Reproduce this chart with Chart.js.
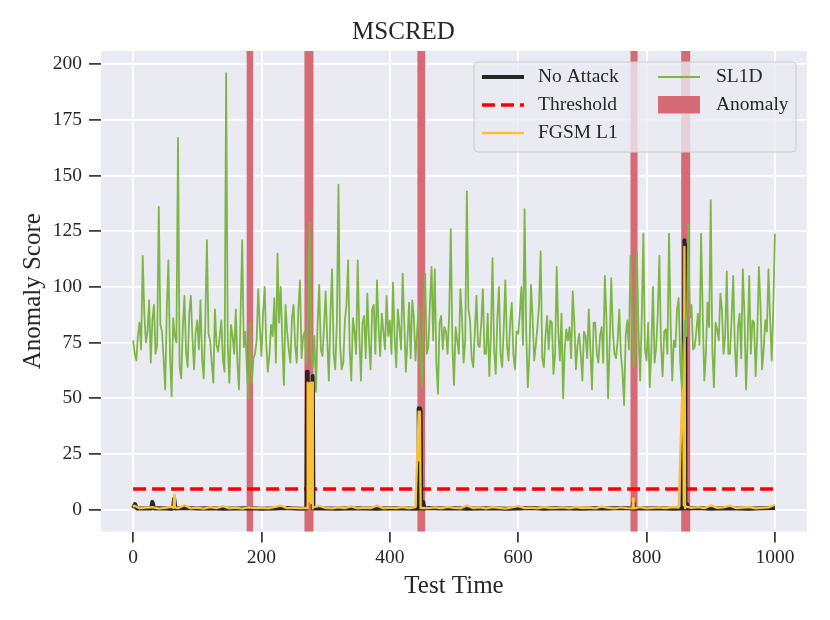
<!DOCTYPE html>
<html><head><meta charset="utf-8">
<script src="https://cdn.jsdelivr.net/npm/chart.js@4.4.1/dist/chart.umd.min.js"></script>
<style>html,body{margin:0;padding:0;background:#fff}#wrap{width:830px;height:620px;position:relative}</style>
</head><body><div id="wrap"><canvas id="c"></canvas></div>
<script>
// ---- data ----
const chartTitle = 'MSCRED';
const xAxisTitle = 'Test Time';
const yAxisTitle = 'Anomaly Score';
const xTickValues = [0, 200, 400, 600, 800, 1000];
const yTickValues = [0, 25, 50, 75, 100, 125, 150, 175, 200];

// SL1D, sampled every 5 time steps from 0 to 1000
const sl1dStep = 5;
const sl1dScore = [
  76,67,84,114,75,94,85,70,136,80,54,112,51,78,167,59,96,64,96,63,
  85,94,59,121,76,57,74,78,67,196,57,78,90,54,121,80,50,57,70,99,
  69,100,62,83,95,115,100,56,80,66,92,66,103,78,66,129,64,53,101,69,
  98,58,108,63,146,63,85,112,58,80,112,58,87,97,63,92,103,69,80,96,
  85,102,64,82,106,62,93,94,67,91,55,106,73,109,108,52,87,82,70,126,
  56,76,99,66,143,85,64,96,73,99,70,60,113,61,100,64,103,67,93,63,
  79,100,135,55,101,67,82,116,64,87,85,61,109,67,50,81,82,98,63,79,
  58,78,90,54,84,66,82,105,50,104,70,76,70,47,85,114,64,115,58,124,
  67,55,100,73,114,60,81,124,58,73,95,55,85,128,92,73,88,124,58,93,
  139,55,81,97,70,107,70,105,60,88,108,54,105,85,60,109,63,85,108,67,
  124
];
// SL1D values in between (times 2.5, 7.5, ..., 997.5)
const sl1dMidScore = [
  70,78,72,88,80,66,92,74,83,68,90,70,86,75,64,82,71,88,77,80,
  72,68,84,79,66,90,71,85,62,74,83,70,66,88,73,62,84,68,76,82,
  88,74,70,78,66,84,76,92,72,86,74,90,68,80,88,70,78,84,72,82,
  76,88,70,84,74,66,92,72,86,70,78,84,68,76,90,70,82,88,72,78,
  70,78,90,72,84,76,68,86,80,74,88,70,92,76,66,84,72,80,88,74,
  82,70,86,76,90,68,80,74,84,70,88,78,72,86,70,82,74,84,70,80,
  88,74,80,70,86,74,92,68,78,72,84,70,80,88,72,76,68,84,74,70,
  80,68,72,84,70,78,66,86,74,80,68,90,62,78,72,84,70,80,86,72,
  84,72,66,88,74,80,70,84,76,90,66,74,78,86,72,80,74,88,70,82,
  72,84,76,90,78,70,86,74,82,68,88,76,70,84,78,92,72,80,86,90
];

// FGSM L1: baseline every 10 steps plus spike points
const fgsmBaseStep = 10;
const fgsmBaseScore = [
  1.2,0.6,0.9,1.1,0.5,0.8,1.3,0.7,2.0,0.6,
  0.9,0.5,1.1,0.7,1.6,0.6,0.9,0.5,1.0,0.7,
  0.8,0.6,1.2,1.8,0.7,0.9,0.6,0.8,0.5,1.7,
  0.8,0.6,1.0,0.7,1.5,0.6,0.9,0.7,1.8,0.6,
  0.9,0.7,1.2,0.6,1.1,0.8,0.7,1.0,0.6,1.3,
  0.8,0.6,1.9,0.7,1.0,0.6,1.2,0.8,0.5,1.0,
  1.6,0.7,0.9,0.6,1.1,0.7,0.8,1.0,0.6,1.2,
  0.7,0.9,0.6,1.4,0.8,0.6,1.0,0.7,0.9,1.1,
  0.6,0.8,1.0,0.7,1.2,0.9,0.6,0.8,1.1,0.7,
  1.9,0.8,1.0,1.8,0.7,0.9,1.2,0.6,0.8,1.0,
  2.2
];
const fgsmSpikeTime  = [2, 63, 64, 65, 271, 272, 273, 274, 275, 276, 277, 278, 279, 280, 445, 446, 447, 448, 778, 779, 780, 857, 858, 859, 860];
const fgsmSpikeScore = [1.8, 0.8, 6.6, 1.0, 0.6, 57, 4, 56, 8, 57, 3, 56, 57, 1.0, 44, 22, 44, 0.7, 0.6, 5, 0.6, 64, 2, 118, 1.5];

// No Attack: baseline every 20 steps plus spike points
const noAttackBaseStep = 20;
const noAttackBaseScore = [
  0.7,0.5,0.6,0.4,0.7,0.5,0.6,0.4,0.5,0.6,
  0.4,0.5,0.7,0.4,0.6,0.5,0.4,0.6,0.5,0.4,
  0.6,0.5,0.4,0.7,0.5,0.6,0.4,0.5,0.6,0.4,
  0.5,0.7,0.4,0.6,0.5,0.4,0.6,0.5,0.7,0.4,
  0.5,0.6,0.4,0.5,0.7,0.4,0.6,0.5,0.4,0.6,
  0.7
];
const noAttackSpikeTime  = [3, 6, 28, 30, 33, 62, 64, 66, 270, 271, 272, 274, 276, 278, 280, 281, 444, 445, 446, 447, 448, 449, 451, 452, 454, 778, 779, 781, 856, 857, 858, 859, 860, 861, 863, 865];
const noAttackSpikeScore = [2.5, 0.5, 0.5, 3.5, 0.5, 0.5, 5, 0.5, 0.5, 62, 57, 57, 56, 57, 60, 0.5, 0.5, 45.5, 44, 45.5, 44, 0.5, 0.5, 3.5, 0.5, 0.5, 3, 0.5, 0.5, 58, 3, 121, 119, 0.5, 2.5, 0.5];

// Threshold
const thresholdTime  = [0, 1000];
const thresholdScore = [9.3, 9.3];

// Anomaly spans (test time)
const anomalyStart = [177, 267, 443, 775, 854];
const anomalyEnd   = [187, 281, 455, 786, 868];

// ---- build point lists ----
function regular(values, step, offset) { return values.map((y, i) => ({x: (offset || 0) + i * step, y})); }
function interleaved(main, mid, step) {
  const pts = [];
  main.forEach((y, i) => {
    pts.push({x: i * step, y});
    if (i < mid.length) pts.push({x: i * step + step / 2, y: mid[i]});
  });
  return pts;
}
function merged(base, step, times, scores) {
  const pts = regular(base, step);
  times.forEach((t, i) => pts.push({x: t, y: scores[i]}));
  pts.sort((a, b) => a.x - b.x);
  return pts;
}
function paired(times, scores) { return times.map((t, i) => ({x: t, y: scores[i]})); }

const COL = {
  bg: '#eaeaf2', text: '#262626', grid: '#ffffff',
  noAttack: '#262626', threshold: '#ff0000', fgsm: '#fbc134', sl1d: '#7db645', anomaly: '#d66a75'
};
const FONT = 'Liberation Serif, "Times New Roman", serif';

const bgPlugin = {
  id: 'bgPlugin',
  beforeDraw(chart) {
    const {ctx, chartArea: a} = chart;
    ctx.save();
    ctx.fillStyle = '#ffffff';
    ctx.fillRect(0, 0, chart.width, chart.height);
    ctx.fillStyle = COL.bg;
    ctx.fillRect(a.left, a.top, a.right - a.left, a.bottom - a.top);
    ctx.restore();
  }
};

const anomalyPlugin = {
  id: 'anomalyPlugin',
  beforeDatasetsDraw(chart) {
    const {ctx, chartArea: a, scales: {x}} = chart;
    ctx.save();
    ctx.fillStyle = COL.anomaly;
    anomalyStart.forEach((s, i) => {
      const x1 = x.getPixelForValue(s), x2 = x.getPixelForValue(anomalyEnd[i]);
      ctx.fillRect(x1, a.top, x2 - x1, a.bottom - a.top);
    });
    ctx.restore();
  }
};

const legendPlugin = {
  id: 'boxLegend',
  afterDraw(chart) {
    const {ctx, chartArea: a} = chart;
    const ds = chart.data.datasets;
    const byLabel = l => ds.find(d => d.label === l);
    const bx = a.right - 333, by = a.top + 11, bw = 322, bh = 90, r = 4;
    ctx.save();
    ctx.beginPath();
    ctx.moveTo(bx + r, by);
    ctx.arcTo(bx + bw, by, bx + bw, by + bh, r);
    ctx.arcTo(bx + bw, by + bh, bx, by + bh, r);
    ctx.arcTo(bx, by + bh, bx, by, r);
    ctx.arcTo(bx, by, bx + bw, by, r);
    ctx.closePath();
    ctx.fillStyle = 'rgba(234,234,242,0.8)';
    ctx.fill();
    ctx.strokeStyle = '#cccccc';
    ctx.lineWidth = 1;
    ctx.stroke();

    const rows = [by + 15, by + 43, by + 71];
    const cols = [{h: bx + 8, t: bx + 64}, {h: bx + 184, t: bx + 242}];
    const items = [
      {label: 'No Attack', col: 0, row: 0, kind: 'line'},
      {label: 'Threshold', col: 0, row: 1, kind: 'line'},
      {label: 'FGSM L1', col: 0, row: 2, kind: 'line'},
      {label: 'SL1D', col: 1, row: 0, kind: 'line'},
      {label: 'Anomaly', col: 1, row: 1, kind: 'patch'}
    ];
    ctx.font = '19.5px ' + FONT;
    ctx.textBaseline = 'middle';
    ctx.textAlign = 'left';
    items.forEach(it => {
      const y = rows[it.row], c = cols[it.col];
      if (it.kind === 'line') {
        const d = byLabel(it.label);
        ctx.beginPath();
        ctx.setLineDash(d.borderDash || []);
        ctx.lineDashOffset = 0;
        ctx.strokeStyle = d.borderColor;
        ctx.lineWidth = d.borderWidth;
        ctx.lineCap = 'butt';
        ctx.moveTo(c.h, y);
        ctx.lineTo(c.h + 42, y);
        ctx.stroke();
        ctx.setLineDash([]);
      } else {
        ctx.fillStyle = COL.anomaly;
        ctx.fillRect(c.h, y - 9, 42, 17.5);
      }
      ctx.fillStyle = COL.text;
      ctx.fillText(it.label, c.t, y);
    });
    ctx.restore();
  }
};

const lineBase = {pointRadius: 0, pointHoverRadius: 0, tension: 0, fill: false, borderJoinStyle: 'round', borderCapStyle: 'butt'};

new Chart(document.getElementById('c'), {
  type: 'line',
  data: {
    datasets: [
      Object.assign({label: 'SL1D', data: interleaved(sl1dScore, sl1dMidScore, sl1dStep), borderColor: COL.sl1d, borderWidth: 1.8, order: 0}, lineBase),
      Object.assign({label: 'FGSM L1', data: merged(fgsmBaseScore, fgsmBaseStep, fgsmSpikeTime, fgsmSpikeScore), borderColor: COL.fgsm, borderWidth: 2.3, order: 1}, lineBase),
      Object.assign({label: 'No Attack', data: merged(noAttackBaseScore, noAttackBaseStep, noAttackSpikeTime, noAttackSpikeScore), borderColor: COL.noAttack, borderWidth: 4, order: 2}, lineBase),
      Object.assign({label: 'Threshold', data: paired(thresholdTime, thresholdScore), borderColor: COL.threshold, borderWidth: 3.6, borderDash: [13, 6], order: 3}, lineBase)
    ]
  },
  options: {
    responsive: true,
    maintainAspectRatio: false,
    animation: false,
    events: [],
    layout: {padding: {left: 0, right: 23, top: 0, bottom: 0}},
    plugins: {
      legend: {display: false},
      tooltip: {enabled: false},
      title: {display: true, text: chartTitle, color: COL.text, font: {family: FONT, size: 25, weight: 'normal'}, padding: {top: 17, bottom: 4}}
    },
    scales: {
      x: {
        type: 'linear', min: -50, max: 1050,
        afterBuildTicks: s => { s.ticks = xTickValues.map(v => ({value: v})); },
        afterFit: s => { s.height = 88.5; },
        grid: {color: COL.grid, lineWidth: 1.8, drawTicks: true, tickLength: 11, tickColor: COL.text, tickWidth: 1.6},
        border: {display: false},
        ticks: {color: COL.text, font: {family: FONT, size: 19.5}, padding: 4, maxRotation: 0, callback: v => String(v)},
        title: {display: true, text: xAxisTitle, color: COL.text, font: {family: FONT, size: 25}, padding: {top: 0, bottom: 19}}
      },
      y: {
        type: 'linear', min: -9.8, max: 206,
        afterBuildTicks: s => { s.ticks = yTickValues.map(v => ({value: v})); },
        afterFit: s => { s.width = 101; },
        grid: {color: COL.grid, lineWidth: 1.8, drawTicks: true, tickLength: 12, tickColor: COL.text, tickWidth: 1.6},
        border: {display: false},
        ticks: {color: COL.text, font: {family: FONT, size: 19.5}, padding: 7, callback: v => String(v)},
        title: {display: true, text: yAxisTitle, color: COL.text, font: {family: FONT, size: 25}, padding: {top: 18, bottom: 0}}
      }
    }
  },
  plugins: [bgPlugin, anomalyPlugin, legendPlugin]
});
</script>
</body></html>
